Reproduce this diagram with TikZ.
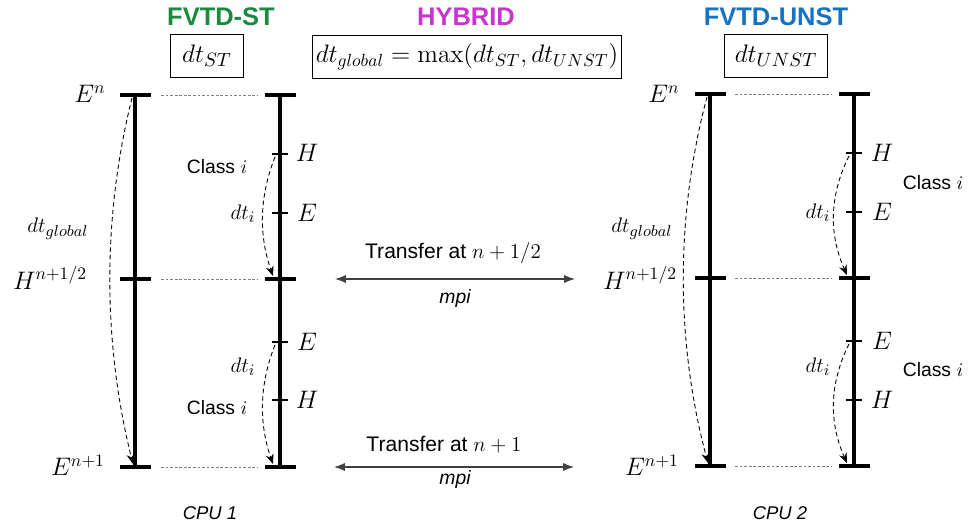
\documentclass[tikz,border=0pt]{standalone}
\usepackage[no-math]{fontspec}
\setmainfont{Liberation Sans}
\usepackage{xcolor}
\usepackage{tikz}
\usetikzlibrary{arrows.meta, positioning, calc}

\definecolor{verdest}{RGB}{26,138,62}
\definecolor{lilahib}{RGB}{200,52,206}
\definecolor{azulunst}{RGB}{24,114,195}

\begin{document}
\begin{tikzpicture}[
    x=0.02cm, y=-0.02cm,
    font=\fontsize{11}{13}\selectfont,
    titulo/.style={font=\fontsize{14.5}{17}\selectfont\bfseries},
    caja/.style={draw, line width=0.6pt, minimum height=24pt, inner sep=2pt,
                 font=\fontsize{15}{17}\selectfont},
    nivel/.style={font=\fontsize{14.5}{16}\selectfont},
    campo/.style={font=\fontsize{15}{17}\selectfont},
    paso/.style={font=\fontsize{12.5}{14}\selectfont},
    barra/.style={line width=1.8pt},
    marca/.style={line width=2pt},
    marquita/.style={line width=1.5pt},
    guia/.style={gray, line width=0.4pt, dash pattern=on 1.6pt off 1pt},
    salto/.style={line width=0.5pt, dash pattern=on 2.5pt off 1.8pt,
                  -{Stealth[length=2mm, width=1.6mm]}},
    enlace/.style={line width=0.6pt, black!75,
                   {Latex[length=2.2mm]}-{Latex[length=2.2mm]}},
    cpu/.style={font=\fontsize{10.5}{12}\selectfont\itshape}
  ]
  \useasboundingbox (0,0) rectangle (968,527);

  % --- Titulos y pasos de tiempo ---
  \node[titulo, text=verdest]  (tst)  at (221,17) {FVTD-ST};
  \node[titulo, text=lilahib]  (thyb) at (466,17) {HYBRID};
  \node[titulo, text=azulunst] (tun)  at (776,17) {FVTD-UNST};
  \node[caja, minimum width=42pt]  (dtst) at (207,56) {$dt_{ST}$};
  \node[caja, minimum width=173pt, font=\fontsize{14}{16}\selectfont]
       (dtgl) at (467,57) {$dt_{global}=\max(dt_{ST},dt_{UNST})$};
  \node[caja, minimum width=59pt]  (dtun) at (776,56) {$dt_{UNST}$};

  % --- CPU 1 ---
  \coordinate (a0) at (135,95);  \coordinate (b0) at (280,95);
  \coordinate (a1) at (135,279); \coordinate (b1) at (280,279);
  \coordinate (a2) at (135,467); \coordinate (b2) at (280,467);
  \coordinate (bh1) at (280,154); \coordinate (be1) at (280,213);
  \coordinate (be2) at (280,342); \coordinate (bh2) at (280,400);

  \draw[barra] (a0) -- (a2);
  \draw[barra] (b0) -- (b2);
  \foreach \p in {a0,a1,a2,b0,b1,b2}
    \draw[marca] (\p) ++(-15,0) -- ++(31,0);
  \foreach \p in {bh1,be1,be2,bh2}
    \draw[marquita] (\p) ++(-8,0) -- ++(16,0);
  \foreach \i in {0,1,2}
    \draw[guia] ($(a\i)+(26,0)$) -- ($(b\i)+(-22,0)$);

  \draw[salto] ($(a0)+(-3,3)$) .. controls +(-30,120) and +(-30,-120) .. ($(a2)+(-2,-3)$);
  \draw[salto] ($(bh1)+(-5,3)$) .. controls +(-16,40) and +(-14,-40) .. ($(b1)+(-7,-3)$);
  \draw[salto] ($(be2)+(-5,3)$) .. controls +(-16,40) and +(-14,-40) .. ($(b2)+(-7,-3)$);

  \node[nivel] (en1)  at (90,94)  {$E^{n}$};
  \node[nivel] (hn1)  at (50,278) {$H^{n+1/2}$};
  \node[nivel] (enp1) at (78,465) {$E^{n+1}$};
  \node[paso]  (dg1)  at (58,229) {$dt_{global}$};
  \node[campo] (h11)  at (307,153) {$H$};
  \node[campo] (e11)  at (307,213) {$E$};
  \node[campo] (e12)  at (307,342) {$E$};
  \node[campo] (h12)  at (307,400) {$H$};
  \node (cl11) at (217,167) {Class $i$};
  \node (cl12) at (217,408) {Class $i$};
  \node[paso] (di11) at (243,214) {$dt_i$};
  \node[paso] (di12) at (243,367) {$dt_i$};
  \node[cpu] (cpu1) at (210,513) {CPU 1};

  % --- CPU 2 ---
  \coordinate (c0) at (710,94);  \coordinate (d0) at (854,94);
  \coordinate (c1) at (710,278); \coordinate (d1) at (854,278);
  \coordinate (c2) at (710,466); \coordinate (d2) at (854,466);
  \coordinate (dh1) at (854,153); \coordinate (de1) at (854,212);
  \coordinate (de2) at (854,341); \coordinate (dh2) at (854,400);

  \draw[barra] (c0) -- (c2);
  \draw[barra] (d0) -- (d2);
  \foreach \p in {c0,c1,c2,d0,d1,d2}
    \draw[marca] (\p) ++(-15,0) -- ++(31,0);
  \foreach \p in {dh1,de1,de2,dh2}
    \draw[marquita] (\p) ++(-8,0) -- ++(16,0);
  \foreach \i in {0,1,2}
    \draw[guia] ($(c\i)+(25,0)$) -- ($(d\i)+(-22,0)$);

  \draw[salto] ($(c0)+(-3,3)$) .. controls +(-32,120) and +(-32,-120) .. ($(c2)+(-2,-3)$);
  \draw[salto] ($(dh1)+(-5,3)$) .. controls +(-20,40) and +(-18,-40) .. ($(d1)+(-7,-3)$);
  \draw[salto] ($(de2)+(-5,3)$) .. controls +(-20,40) and +(-18,-40) .. ($(d2)+(-7,-3)$);

  \node[nivel] (en2)  at (664,94)  {$E^{n}$};
  \node[nivel] (hn2)  at (640,278) {$H^{n+1/2}$};
  \node[nivel] (enp2) at (652,465) {$E^{n+1}$};
  \node[paso]  (dg2)  at (642,229) {$dt_{global}$};
  \node[campo] (h21)  at (882,153) {$H$};
  \node[campo] (e21)  at (882,212) {$E$};
  \node[campo] (e22)  at (882,341) {$E$};
  \node[campo] (h22)  at (882,400) {$H$};
  \node (cl21) at (933,183) {Class $i$};
  \node (cl22) at (933,370) {Class $i$};
  \node[paso] (di21) at (818,213) {$dt_i$};
  \node[paso] (di22) at (818,367) {$dt_i$};
  \node[cpu] (cpu2) at (780,513) {CPU 2};

  % --- Intercambio mpi ---
  \coordinate (x1i) at (335,279); \coordinate (x1d) at (575,279);
  \coordinate (x2i) at (334,467); \coordinate (x2d) at (574,467);
  \draw[enlace] (x1i) -- (x1d);
  \draw[enlace] (x2i) -- (x2d);
  \node[font=\fontsize{12}{14}\selectfont] (tr1) at (453,253) {Transfer at $n+1/2$};
  \node[font=\fontsize{12}{14}\selectfont] (tr2) at (444,445) {Transfer at $n+1$};
  \node[cpu, font=\fontsize{11}{13}\selectfont\itshape] (mpi1) at (455,299) {mpi};
  \node[cpu, font=\fontsize{11}{13}\selectfont\itshape] (mpi2) at (455,480) {mpi};
\end{tikzpicture}
\end{document}
